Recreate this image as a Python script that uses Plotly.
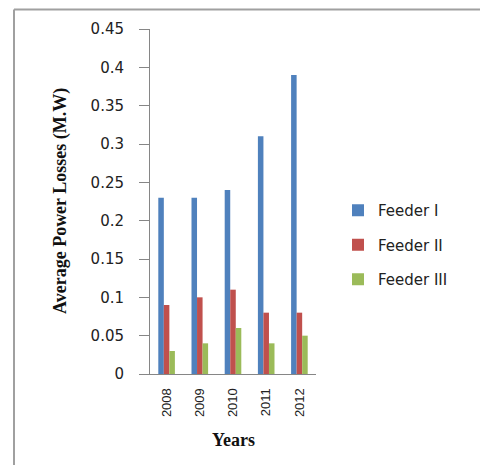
import plotly.graph_objects as go

years = ["2008", "2009", "2010", "2011", "2012"]
feeder_1 = [0.23, 0.23, 0.24, 0.31, 0.39]
feeder_2 = [0.09, 0.10, 0.11, 0.08, 0.08]
feeder_3 = [0.03, 0.04, 0.06, 0.04, 0.05]
series_names = ["Feeder I", "Feeder II", "Feeder III"]
series_colors = ["#4F81BD", "#C0504D", "#9BBB59"]

OFF = 8  # default body margin of the page
W, H = 488 - 2 * OFF, 473 - 2 * OFF
L, T = 150 - OFF, 29 - OFF
R = W - (316 - OFF)
B = H - (374 - OFF)
pw = W - L - R
ph = H - T - B

def px_x(x):
    return (x - OFF - L) / pw

def px_y(y):
    return (H - B - (y - OFF)) / ph

fig = go.Figure()
for name, vals, col in zip(series_names, [feeder_1, feeder_2, feeder_3], series_colors):
    fig.add_trace(go.Bar(x=years, y=vals, name=name, marker=dict(color=col, line=dict(width=0)),
                         legendgroup=name))

fig.update_layout(
    width=W, height=H, autosize=False,
    margin=dict(l=L, r=R, t=T, b=B),
    paper_bgcolor="white", plot_bgcolor="white",
    barmode="group", bargap=0.5, bargroupgap=0,
    showlegend=True,
    legend=dict(x=px_x(338), y=px_y(194), xanchor="left", yanchor="top",
                font=dict(family="DejaVu Sans", size=15, color="#222222"),
                bgcolor="rgba(0,0,0,0)", borderwidth=0,
                traceorder="grouped", tracegroupgap=12, itemwidth=30),
    xaxis=dict(showline=True, linecolor="#868686", linewidth=1, ticks="",
               tickangle=-90, tickfont=dict(family="Liberation Sans", size=13, color="#222222"),
               showgrid=False, ticklabelstandoff=8),
    yaxis=dict(range=[0, 0.45], dtick=0.05, showline=True, linecolor="#868686", linewidth=1,
               ticks="outside", ticklen=10, tickcolor="#868686", showgrid=False, zeroline=False,
               tickfont=dict(family="DejaVu Sans", size=15, color="#222222"),
               ticklabelstandoff=12),
    font=dict(family="DejaVu Sans"),
)

fig.add_annotation(text="<b>Average Power Losses (M.W)</b>", textangle=-90,
                   xref="paper", yref="paper", x=px_x(60), y=px_y(201),
                   showarrow=False, xanchor="center", yanchor="middle",
                   font=dict(family="Liberation Serif", size=18, color="#111111"))
fig.add_annotation(text="<b>Years</b>", xref="paper", yref="paper", x=px_x(233), y=px_y(440),
                   showarrow=False, xanchor="center", yanchor="middle",
                   font=dict(family="Liberation Serif", size=18, color="#111111"))

# frame: top and left edges only
fig.add_shape(type="line", xref="paper", yref="paper",
              x0=px_x(14), x1=px_x(486), y0=px_y(9.5), y1=px_y(9.5),
              line=dict(color="#A0A0A0", width=2), layer="below")
fig.add_shape(type="line", xref="paper", yref="paper",
              x0=px_x(14), x1=px_x(14), y0=px_y(9.5), y1=px_y(473),
              line=dict(color="#A0A0A0", width=2), layer="below")

fig.write_html("out.html")
